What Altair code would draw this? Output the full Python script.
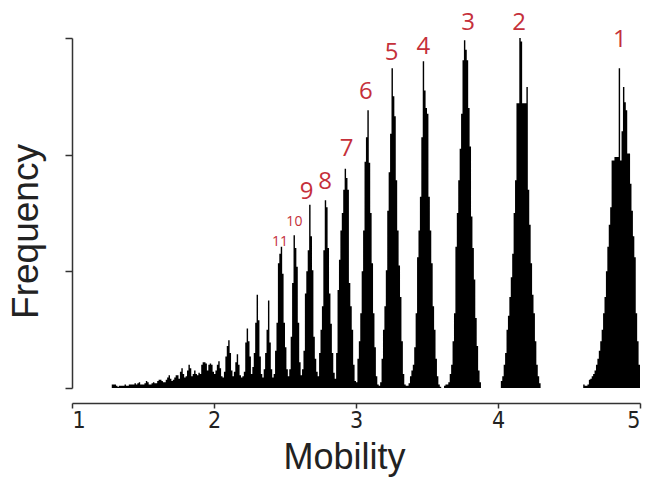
import altair as alt
import pandas as pd

# Histogram: bins of width 0.01 starting at 1.20 (left edges), counts
bin_start = 1.20
bin_width = 0.01
counts = [
    0, 0, 0, 0, 0, 0, 0, 0, 3, 3,            # 1.20
    3, 2, 1, 2, 2, 2, 2, 3, 2, 2,            # 1.30
    3, 3, 3, 3, 4, 3, 4, 5, 3, 3,            # 1.40
    3, 4, 6, 5, 3, 3, 4, 5, 4, 4,            # 1.50
    6, 7, 7, 6, 5, 5, 7, 9, 11, 8,           # 1.60
    6, 7, 9, 11, 11, 8, 14, 17, 12, 9,       # 1.70
    10, 15, 20, 17, 10, 12, 15, 12, 11, 13,  # 1.80
    12, 20, 22, 22, 21, 15, 20, 21, 20, 14,  # 1.90
    12, 15, 20, 23, 17, 10, 9, 14, 27, 36,   # 2.00
    41, 30, 15, 10, 14, 22, 29, 20, 11, 9,   # 2.10
    10, 14, 39, 51, 40, 27, 12, 18, 30, 56,  # 2.20
    80, 58, 27, 12, 9, 16, 30, 50, 75, 39,   # 2.30
    16, 9, 12, 32, 56, 107, 115, 121, 98, 56,      # 2.40
    35, 16, 10, 16, 44, 90, 131, 120, 104, 56,     # 2.50
    22, 11, 16, 32, 81, 100, 118, 157, 130, 101,   # 2.60
    44, 25, 14, 10, 30, 50, 70, 118, 161, 155,     # 2.70
    120, 81, 55, 30, 13, 8, 30, 84, 110, 135,      # 2.80
    150, 170, 188, 180, 170, 90, 70, 50, 20, 6,    # 2.90
    5, 25, 40, 64, 100, 135, 194, 215, 238, 193,   # 3.00
    150, 107, 64, 35, 10, 3, 2, 5, 25, 50,         # 3.10
    70, 101, 152, 185, 218, 274, 250, 233, 178, 135,  # 3.20
    105, 78, 40, 12, 3, 2, 2, 4, 10, 15,           # 3.30
    20, 35, 64, 112, 135, 164, 215, 280, 255, 240, # 3.40
    235, 164, 135, 107, 70, 50, 25, 10, 3, 1,      # 3.50
    0, 0, 2, 3, 3, 5, 12, 20, 40, 64,              # 3.60
    121, 150, 178, 205, 235, 281, 298, 290, 281, 240,  # 3.70
    207, 147, 120, 93, 60, 36, 15, 5, 0, 0,        # 3.80
    0, 0, 0, 0, 0, 0, 0, 0, 0, 0,                  # 3.90
    0, 0, 6, 10, 20, 30, 50, 62, 78, 95,           # 4.00
    115, 150, 178, 244, 244, 300, 297, 244, 244, 244,  # 4.10
    258, 170, 140, 107, 80, 64, 40, 20, 10, 4,     # 4.20
    0, 0, 0, 0, 0, 0, 0, 0, 0, 0,                  # 4.30
    0, 0, 0, 0, 0, 0, 0, 0, 0, 0,                  # 4.40
    0, 0, 0, 0, 0, 0, 0, 0, 0, 0,                  # 4.50
    3, 2, 2, 3, 7, 8, 10, 12, 15, 20,              # 4.60
    25, 32, 40, 50, 64, 78, 100, 121, 140, 155,    # 4.70
    195, 195, 198, 198, 198, 274, 195, 220, 258, 245,  # 4.80
    238, 201, 201, 175, 152, 130, 112, 64, 40, 20,     # 4.90
]

# Peak labels
label_text = ["1", "2", "3", "4", "5", "6", "7", "8", "9"]
label_x = [4.859, 4.148, 3.789, 3.474, 3.251, 3.070, 2.934, 2.782, 2.653]
label_y = [298, 313, 313, 292, 287, 254, 205, 177, 168]
small_text = ["10", "11"]
small_x = [2.566, 2.465]
small_y = [142, 125]

edges = [round(bin_start + i * bin_width, 2) for i in range(len(counts) + 1)]
hist = pd.DataFrame({"mobility": edges, "freq": counts + [0]})
big = pd.DataFrame({"t": label_text, "x": label_x, "y": label_y})
small = pd.DataFrame({"t": small_text, "x": small_x, "y": small_y})

xscale = alt.Scale(domain=[1, 5], nice=False, zero=False)
yscale = alt.Scale(domain=[0, 300], nice=False)

area = alt.Chart(hist).mark_area(interpolate="step-after", color="black").encode(
    x=alt.X("mobility:Q", scale=xscale,
            axis=alt.Axis(title="Mobility", values=[1, 2, 3, 4, 5], format="d",
                          offset=15, grid=False, tickSize=5, labelPadding=1,
                          labelFontSize=23, labelFont="Liberation Sans Narrow, DejaVu Sans Condensed, Liberation Sans",
                          labelColor="#222", titleFontSize=36, titleFont="Liberation Sans",
                          titleFontWeight="normal", titleColor="#222", titlePadding=8,
                          titleX=272, domainColor="#333", domainWidth=1.5,
                          tickColor="#333", tickWidth=1.5)),
    y=alt.Y("freq:Q", scale=yscale,
            axis=alt.Axis(title="Frequency", values=[0, 100, 200, 300], labels=False,
                          grid=False, tickSize=7, titleFontSize=37, titleFont="Liberation Sans",
                          titleFontWeight="normal", titleColor="#222", titlePadding=19,
                          titleY=193, domainColor="#333", domainWidth=1.5,
                          tickColor="#333", tickWidth=1.5)),
)

red = "#c5303a"
big_labels = alt.Chart(big).mark_text(
    color=red, fontSize=24, font="Open Sans", baseline="middle", align="center"
).encode(x=alt.X("x:Q", scale=xscale), y=alt.Y("y:Q", scale=yscale), text="t:N")

small_labels = alt.Chart(small).mark_text(
    color=red, fontSize=14, font="Open Sans", baseline="middle", align="center"
).encode(x=alt.X("x:Q", scale=xscale), y=alt.Y("y:Q", scale=yscale), text="t:N")

chart = alt.layer(area, big_labels, small_labels).properties(
    width=568, height=350,
    background="white",
    autosize=alt.AutoSizeParams(type="none"),
    padding={"left": 72, "top": 38, "right": 8, "bottom": 94},
).configure_view(strokeWidth=0)

chart.save("out.html", embed_options={"renderer": "svg", "actions": False})
